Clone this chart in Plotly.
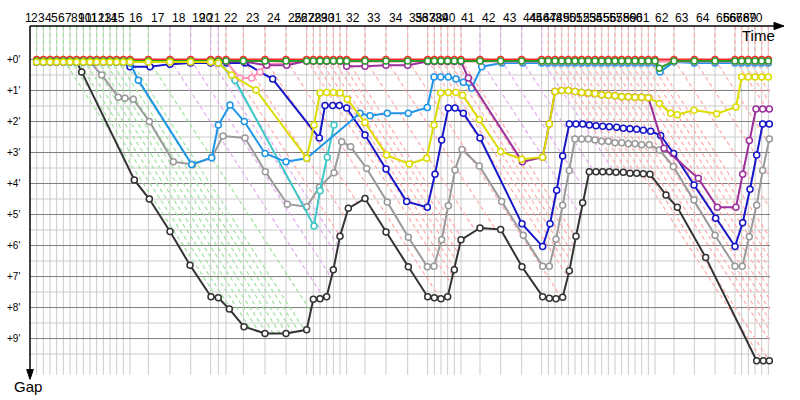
import numpy as np
import plotly.graph_objects as go

# ---------------- data (time in seconds since first event, gap in seconds) ----------------
event_labels = [str(i) for i in range(1, 71)]
event_t = [0, 20, 40, 60, 80, 100, 120, 140, 160, 180, 200, 220, 240, 260, 280,
           335, 400, 462, 522, 545, 568, 620, 685, 748, 810, 830, 850, 870, 890, 910, 930,
           985, 1048, 1113, 1173, 1193, 1213, 1233, 1253, 1273, 1330, 1392, 1455, 1515,
           1535, 1555, 1575, 1595, 1615, 1635, 1655, 1675, 1695, 1715, 1735, 1755, 1775, 1795, 1815, 1835, 1855,
           1912, 1973, 2035, 2095, 2115, 2135, 2155, 2175, 2195]
event_group = ["g"] * 16 + ["v"] * 4 + ["r"] * 20 + ["v"] * 4 + ["r"] * 26

gap_ticks = [0, 60, 120, 180, 240, 300, 360, 420, 480, 540]
gap_tick_labels = ["+0'", "+1'", "+2'", "+3'", "+4'", "+5'", "+6'", "+7'", "+8'", "+9'"]

black_t = event_t[:7] + [135, 293, 338, 400, 460, 523, 545, 578, 622, 685, 748, 810, 830, 850, 870, 890, 910, 935,
                         985, 1048, 1115, 1173, 1193, 1213, 1233, 1253, 1273, 1330, 1392, 1456, 1518, 1538, 1558,
                         1578, 1598, 1618, 1638, 1658, 1678, 1698, 1718, 1738, 1760, 1780, 1800, 1820, 1840, 1888,
                         1922, 2007, 2160, 2180, 2198]
black_g = [5] * 7 + [24, 233, 270, 333, 398, 459, 461, 483, 517, 530, 530, 523, 464, 463, 459, 407, 342, 288, 269,
                     334, 401, 459, 461, 463, 459, 407, 349, 326, 329, 401, 459, 462, 463, 460, 409, 342, 277, 217,
                     217, 217, 217, 218, 218, 220, 220, 221, 222, 262, 286, 383, 583, 583, 583]

gray_t = event_t[:9] + [195, 245, 265, 290, 338, 410, 468, 525, 559, 625, 686, 752, 810, 848, 892, 915, 942, 990,
                        1052, 1115, 1172, 1192, 1215, 1235, 1255, 1276, 1328, 1395, 1460, 1518, 1538, 1558, 1578,
                        1598, 1615, 1635, 1655, 1675, 1695, 1715, 1735, 1755, 1775, 1795, 1815, 1838, 1868, 1910,
                        1972, 2035, 2095, 2117, 2138, 2160, 2178, 2198]
gray_g = [5] * 9 + [30, 73, 75, 77, 120, 198, 203, 190, 148, 152, 217, 280, 285, 247, 219, 159, 169, 211, 276, 344,
                    401, 400, 349, 283, 214, 174, 206, 275, 340, 400, 400, 348, 282, 215, 154, 154, 154, 156, 158,
                    158, 161, 161, 163, 163, 165, 165, 175, 207, 272, 340, 400, 400, 343, 282, 215, 154]

blue_t = event_t[:14] + [280, 340, 400, 462, 522, 545, 570, 625, 708, 848, 865, 888, 908, 930, 985, 1048, 1110,
                         1172, 1195, 1215, 1235, 1255, 1280, 1330, 1456, 1518, 1540, 1560, 1578, 1598, 1618, 1638,
                         1658, 1678, 1698, 1718, 1740, 1760, 1780, 1800, 1820, 1842, 1872, 1911, 1972, 2037, 2095,
                         2118, 2140, 2160, 2178, 2198]
blue_g = [5] * 14 + [14, 14, 9, 7, 7, 7, 7, 7, 38, 152, 89, 89, 89, 94, 146, 212, 275, 286, 222, 156, 94, 94, 104,
                     152, 318, 362, 318, 253, 187, 125, 125, 125, 127, 128, 129, 130, 131, 133, 134, 135, 137, 139,
                     147, 182, 243, 307, 362, 316, 251, 185, 125, 125]

lblue_t = event_t[:14] + [280, 305, 465, 525, 545, 580, 623, 685, 748, 810, 970, 1000,
                          1052, 1115, 1172, 1192, 1212, 1235, 1258, 1280, 1305, 1335, 1395, 1458] \
          + event_t[43:61] + [1870] + event_t[61:]
lblue_g = [5] * 14 + [7, 40, 203, 190, 127, 88, 120, 182, 198, 191, 104, 109, 104, 104, 93,
                      34, 34, 34, 38, 44, 55, 14, 7, 7] + [7] * 18 + [24] + [5, 7, 7, 7, 7, 7, 7, 7, 7]

cyan_t = event_t[:19] + [545, 595, 832, 850, 872, 892]
cyan_g = [5] * 19 + [4, 40, 322, 254, 189, 127]

yellow_t = event_t[:19] + [545, 585, 658, 810, 832, 850, 870, 890, 910, 932, 985, 1050, 1118, 1170, 1192, 1212,
                           1235, 1258, 1278, 1328, 1392, 1455, 1518, 1538] \
           + event_t[45:60] + [1868, 1902, 1922, 1972, 2040, 2098] + event_t[65:]
yellow_g = [5] * 19 + [7, 30, 59, 191, 127, 65, 64, 64, 65, 77, 122, 185, 202, 191, 127, 65, 64, 64, 69, 116, 178,
                       193, 189, 125] \
           + [62, 60, 60, 62, 64, 65, 66, 68, 69, 70, 72, 72, 73, 73, 74] + [85, 104, 107, 98, 105, 92] + [34] * 5

purple_t = event_t[:22] + [690, 750] + event_t[24:30] + event_t[30:34] + event_t[34:40] + [1295, 1457, 1518, 1538] \
           + event_t[45:60] + [1882, 1985, 2042, 2098, 2118, 2138, 2158, 2178, 2198]
purple_g = [4] * 22 + [11, 11] + [3] * 6 + [13, 13, 11, 11] + [4] * 6 + [36, 198, 189, 125] \
           + [62, 60, 60, 62, 64, 65, 66, 68, 69, 70, 72, 72, 73, 73, 74] + [172, 230, 286, 286, 222, 157, 96, 96, 96]

pink_t = event_t[:21] + [610, 645, 670, 688] + event_t[24:]
pink_g = [4] * 21 + [36, 36, 24, 9] + [4] * 46

green_t = event_t[:61] + [1868] + event_t[61:]
green_g = [3] * 61 + [17] + [3] * 9

red_t = event_t
red_g = [0] * 70

# ---------------- styling ----------------
FONT = "Liberation Sans"
X0, X1 = -110, 2290          # visible time range
Y_TOP, Y_BOT = -115.1, 658.9  # visible gap range (reversed)
AX_T = -20                    # time at which the gap axis is drawn
AX_G = -64.8                  # gap at which the time axis is drawn
GRID_END_T = 2200
GRID_BOTTOM_G = 610

series = [
    ("black", black_t, black_g, "#333333"),
    ("gray", gray_t, gray_g, "#9a9a9a"),
    ("cyan", cyan_t, cyan_g, "#3cc8c8"),
    ("blue", blue_t, blue_g, "#1616c8"),
    ("lightblue", lblue_t, lblue_g, "#1e96e8"),
    ("pink", pink_t, pink_g, "#ff8cb4"),
    ("purple", purple_t, purple_g, "#9b309b"),
    ("red", red_t, red_g, "#ff2a2a"),
    ("green", green_t, green_g, "#2a9a2a"),
    ("yellow", yellow_t, yellow_g, "#dcdc00"),
]
dash_colors = {"g": "#9fe39f", "v": "#e2aaee", "r": "#ffabab"}

fig = go.Figure()


def seg_trace(xs, ys, color, width=1.0, dash=None):
    fig.add_trace(go.Scatter(x=xs, y=ys, mode="lines", hoverinfo="skip", showlegend=False,
                             line=dict(color=color, width=width, dash=dash)))


# minor horizontal gridlines (half minutes)
xs, ys = [], []
for g in np.arange(30, 600, 60):
    xs += [AX_T, GRID_END_T, None]
    ys += [g, g, None]
seg_trace(xs, ys, "#cccccc")

# vertical gridlines at events
xs, ys = [], []
for t in event_t:
    xs += [t, t, None]
    ys += [AX_G, GRID_BOTTOM_G, None]
seg_trace(xs, ys, "#cccccc")

# major horizontal gridlines (minutes)
xs, ys = [], []
for g in gap_ticks:
    xs += [AX_T, GRID_END_T, None]
    ys += [g, g, None]
seg_trace(xs, ys, "#7f7f7f")

# event lines: vertical dashed to the leader, then diagonal until it meets the last group
bt = np.array(black_t, float)
bg = np.array(black_g, float)
tg = np.arange(0, bt[-1] + 0.01, 0.5)
pos = tg - np.interp(tg, bt, bg)
lines = {k: ([], []) for k in dash_colors}
for t0, grp in zip(event_t, event_group):
    lx, ly = lines[grp]
    lx += [t0, t0, None]
    ly += [AX_G, 0, None]
    m = tg >= t0
    tt = tg[m]
    d = pos[m] - t0
    if len(tt) < 2:
        continue
    idx = np.where((d[:-1] < 0) & (d[1:] >= 0))[0]
    if len(idx):
        te = tt[idx[-1] + 1]
    elif np.all(d < 0):
        te = tt[-1]
    else:
        continue
    lx += [t0, te, None]
    ly += [0, te - t0, None]
for k, (lx, ly) in lines.items():
    seg_trace(lx, ly, dash_colors[k], width=1.2, dash="4px,3px")

# data series
for name, t, g, col in series:
    fig.add_trace(go.Scatter(
        x=t, y=g, mode="lines+markers", name=name, showlegend=False, hoverinfo="skip",
        line=dict(color=col, width=2),
        marker=dict(symbol="circle", size=6, color="white", line=dict(color=col, width=1.5)),
    ))

# axes with arrows
fig.add_shape(type="line", x0=AX_T, x1=AX_T, y0=AX_G, y1=605, line=dict(color="black", width=1.5))
fig.add_shape(type="path", path=f"M {AX_T-10},{600} L {AX_T+10},{600} L {AX_T},{619} Z",
              fillcolor="black", line=dict(color="black", width=1))
fig.add_shape(type="line", x0=AX_T, x1=2215, y0=AX_G, y1=AX_G, line=dict(color="black", width=1.5))
fig.add_shape(type="path", path=f"M {2212},{AX_G-7} L {2212},{AX_G+7} L {2242},{AX_G} Z",
              fillcolor="black", line=dict(color="black", width=1))

annotations = []
for lab, t in zip(event_labels, event_t):
    annotations.append(dict(x=t, y=-81, text=lab, showarrow=False, xanchor="right", yanchor="middle",
                            xshift=-3, font=dict(family=FONT, size=12, color="black")))
for g, lab in zip(gap_ticks, gap_tick_labels):
    annotations.append(dict(x=-44, y=g, text=lab, showarrow=False, xanchor="right", yanchor="middle",
                            font=dict(family=FONT, size=10, color="black")))
annotations.append(dict(x=2221, y=-47, text="Time", showarrow=False, xanchor="right", yanchor="middle",
                        font=dict(family=FONT, size=15, color="black")))
annotations.append(dict(x=-74, y=632, text="Gap", showarrow=False, xanchor="left", yanchor="middle",
                        font=dict(family=FONT, size=15, color="black")))

fig.update_layout(
    width=800, height=400, margin=dict(l=0, r=0, t=0, b=0),
    paper_bgcolor="white", plot_bgcolor="white", showlegend=False,
    xaxis=dict(range=[X0, X1], visible=False, showgrid=False, zeroline=False),
    yaxis=dict(range=[Y_BOT, Y_TOP], visible=False, showgrid=False, zeroline=False),
    annotations=annotations,
)

fig.write_html("out.html")
